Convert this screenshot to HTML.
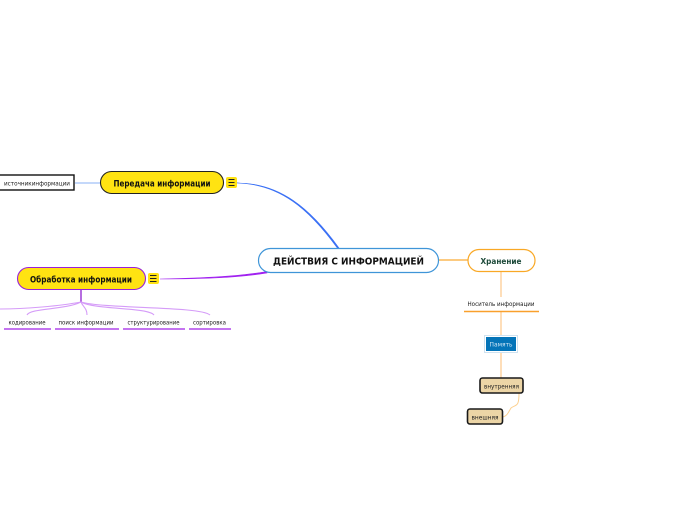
<!DOCTYPE html>
<html><head><meta charset="utf-8"><style>
html,body{margin:0;padding:0;background:#fff;width:697px;height:520px;overflow:hidden}
svg{display:block}
text{font-family:"DejaVu Sans","Liberation Sans",sans-serif;text-anchor:middle;dominant-baseline:alphabetic;fill:#222}
.b{font-weight:bold;fill:#111}
</style></head><body>
<svg width="697" height="520" viewBox="0 0 697 520" xmlns="http://www.w3.org/2000/svg">
<!-- connectors -->
<path d="M237 183 C280 183 310 208 339 248 L337.300 248 C309 209 280 184 237 183 Z" fill="#3a70f5" stroke="#3a70f5" stroke-width="0.6"/>
<path d="M160 279 C200 278 235 277 267 271.500 L267 273 C235 278 200 279 160 279 Z" fill="#a020f0" stroke="#a020f0" stroke-width="0.6"/>
<line x1="75" y1="183" x2="101" y2="183" stroke="#8ab0f5" stroke-width="1"/>
<line x1="438" y1="260" x2="468" y2="260" stroke="#fbab35" stroke-width="1.200"/>
<line x1="501" y1="272" x2="501" y2="297" stroke="#fcc98a" stroke-width="1.200"/>
<line x1="501" y1="312" x2="501" y2="378" stroke="#fcc98a" stroke-width="1.200"/>
<path d="M519 393 C519 408 516 404 511 408 C508 413 507 416 503 417" fill="none" stroke="#fcd08f" stroke-width="1"/>
<line x1="81" y1="290" x2="81" y2="302" stroke="#8f1fd0" stroke-width="1.300"/>
<g fill="none" stroke="#d59cf8" stroke-width="1.100">
<path d="M81 302 C60 306 25 309 0 309"/>
<path d="M81 302 C65 310 30 308 27 315"/>
<path d="M81 302 C83 307 87 308 87 315"/>
<path d="M81 302 C95 310 148 307 154 315"/>
<path d="M81 302 C105 309 200 306 210 315"/>
</g>
<!-- central -->
<rect x="258.500" y="248.500" width="180" height="24" rx="12" fill="#fff" stroke="#3f95d8" stroke-width="1.200"/>
<text class="b" x="348.500" y="264.500" font-size="9.500" textLength="151" lengthAdjust="spacingAndGlyphs">ДЕЙСТВИЯ С ИНФОРМАЦИЕЙ</text>
<!-- Передача -->
<rect x="100.500" y="171.500" width="123" height="22" rx="11" fill="#ffe312" stroke="#222" stroke-width="1.100"/>
<text class="b" x="162" y="186.500" font-size="8.500" textLength="97" lengthAdjust="spacingAndGlyphs">Передача информации</text>
<rect x="226" y="177" width="11" height="11" rx="2" fill="#ffe312"/>
<path d="M228.500 179.500H234.500M228.500 182.500H234.500M228.500 185.500H234.500" stroke="#222" stroke-width="0.900"/>
<!-- источник -->
<rect x="-3" y="175" width="77" height="15" fill="#fff" stroke="#111" stroke-width="1.400"/>
<text x="37" y="185.500" font-size="6.500" textLength="66" lengthAdjust="spacingAndGlyphs">источникинформации</text>
<!-- Обработка -->
<rect x="17.500" y="267.500" width="128" height="22" rx="11" fill="#ffe312" stroke="#9a20d8" stroke-width="1.100"/>
<text class="b" x="81" y="282.500" font-size="8.500" textLength="102" lengthAdjust="spacingAndGlyphs">Обработка информации</text>
<rect x="148" y="273" width="11" height="11" rx="2" fill="#ffe312"/>
<path d="M150 275.500H156.500M150 278.500H156.500M150 281.500H156.500" stroke="#222" stroke-width="0.900"/>
<!-- subtopics -->
<text x="27" y="324.500" font-size="6.500" textLength="37" lengthAdjust="spacingAndGlyphs">кодирование</text>
<line x1="4" y1="329" x2="51" y2="329" stroke="#a020e8" stroke-width="1.300"/>
<text x="86" y="324.500" font-size="6.500" textLength="55" lengthAdjust="spacingAndGlyphs">поиск информации</text>
<line x1="55" y1="329" x2="119" y2="329" stroke="#a020e8" stroke-width="1.300"/>
<text x="153.500" y="324.500" font-size="6.500" textLength="52" lengthAdjust="spacingAndGlyphs">структурирование</text>
<line x1="123" y1="329" x2="185" y2="329" stroke="#a020e8" stroke-width="1.300"/>
<text x="209.500" y="324.500" font-size="6.500" textLength="33" lengthAdjust="spacingAndGlyphs">сортировка</text>
<line x1="189" y1="329" x2="231" y2="329" stroke="#a020e8" stroke-width="1.300"/>
<!-- Хранение -->
<rect x="468" y="249.500" width="67" height="22" rx="11" fill="#fff" stroke="#f9a825" stroke-width="1.200"/>
<text class="b" x="501" y="264" font-size="8" textLength="41" lengthAdjust="spacingAndGlyphs" style="fill:#1d4a3a">Хранение</text>
<!-- Носитель -->
<text x="501" y="306" font-size="6.500" textLength="67" lengthAdjust="spacingAndGlyphs">Носитель информации</text>
<line x1="464" y1="311.500" x2="539" y2="311.500" stroke="#f9a02c" stroke-width="1.500"/>
<!-- Память -->
<rect x="484.500" y="335.500" width="33" height="17" fill="#fff" stroke="#cfe2f0" stroke-width="1"/>
<rect x="486" y="337" width="30" height="14" fill="#0474b8"/>
<text x="501" y="346.500" font-size="6" textLength="23" lengthAdjust="spacingAndGlyphs" style="fill:#cfe6f5">Память</text>
<!-- внутренняя -->
<rect x="480" y="378" width="43" height="15" rx="2.500" fill="#ecd5a6" stroke="#1a1a1a" stroke-width="1.600"/>
<text x="501.500" y="388.500" font-size="6.500" textLength="35" lengthAdjust="spacingAndGlyphs">внутренняя</text>
<!-- внешняя -->
<rect x="467.500" y="409" width="35" height="15" rx="2.500" fill="#ecd5a6" stroke="#1a1a1a" stroke-width="1.600"/>
<text x="485" y="419.500" font-size="6.500" textLength="27" lengthAdjust="spacingAndGlyphs">внешняя</text>
</svg>
</body></html>
